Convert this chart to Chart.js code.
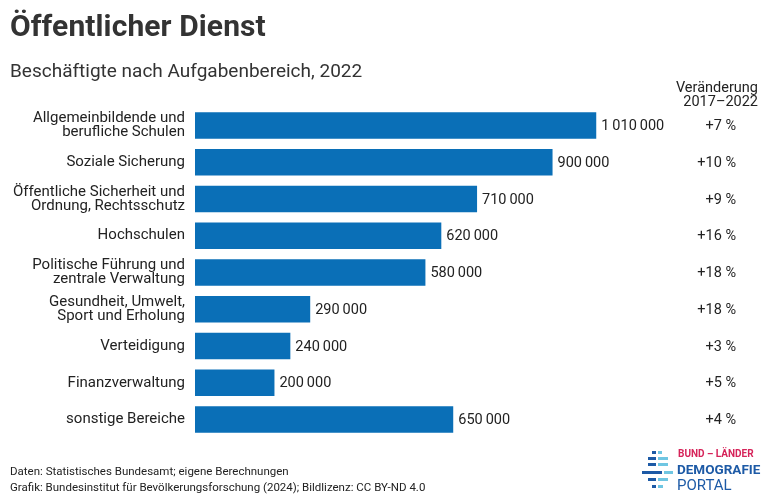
<!DOCTYPE html>
<html>
<head>
<meta charset="utf-8">
<script src="https://cdn.jsdelivr.net/npm/chart.js@4.4.1/dist/chart.umd.min.js"></script>
<style>
  html, body { margin:0; padding:0; background:#fff; }
  body { width:770px; height:500px; position:relative; overflow:hidden; font-family: Roboto, "Noto Sans", sans-serif; color:#222; }
  #wrap { position:absolute; left:0; top:0; width:770px; height:500px; }
  .abs { position:absolute; white-space:nowrap; }
  #title { left:10px; top:8px; font-size:30px; font-weight:700; color:#333; letter-spacing:0.1px; }
  #subtitle { left:10px; top:59px; font-size:19px; color:#333; }
  #head { right:12px; top:81px; font-size:14.5px; line-height:14px; text-align:right; color:#222; }
  #foot { left:10px; top:463px; font-size:11.5px; line-height:16px; color:#222; }
  .st { position:absolute; height:3px; }
  .d { background:#1d5aa6; }
  .l { background:#6fc6e2; }
  #lg1 { left:678px; top:448px; font-size:10px; font-weight:700; color:#d6245a; }
  #lg2 { left:677px; top:461px; font-size:13.5px; font-weight:700; color:#1d5aa6; }
  #lg3 { left:677px; top:476px; font-size:15px; color:#1d5aa6; }
</style>
</head>
<body>
<div id="wrap"><canvas id="c" width="770" height="500"></canvas></div>
<div class="abs" id="title">Öffentlicher Dienst</div>
<div class="abs" id="subtitle">Beschäftigte nach Aufgabenbereich, 2022</div>
<div class="abs" id="head">Veränderung<br>2017–2022</div>
<div class="abs" id="foot">Daten: Statistisches Bundesamt; eigene Berechnungen<br>Grafik: Bundesinstitut für Bevölkerungsforschung (2024); Bildlizenz: CC BY-ND 4.0</div>
<div id="logo">
  <div class="st d" style="left:652px;top:451px;width:4px"></div><div class="st l" style="left:658px;top:451px;width:4px"></div>
  <div class="st d" style="left:648px;top:457px;width:8px"></div><div class="st l" style="left:658px;top:457px;width:10px"></div>
  <div class="st d" style="left:648px;top:463px;width:8px"></div><div class="st l" style="left:658px;top:463px;width:10px"></div>
  <div class="st d" style="left:642px;top:471px;width:20px"></div><div class="st l" style="left:664px;top:471px;width:9px"></div>
  <div class="st d" style="left:648px;top:478px;width:8px"></div><div class="st l" style="left:658px;top:478px;width:10px"></div>
  <div class="st d" style="left:652px;top:485px;width:4px"></div><div class="st l" style="left:658px;top:485px;width:5px"></div>
  <div class="abs" id="lg1">BUND – LÄNDER</div>
  <div class="abs" id="lg2">DEMOGRAFIE</div>
  <div class="abs" id="lg3">PORTAL</div>
</div>
<script>
const categories = [
  ["Allgemeinbildende und", "berufliche Schulen"],
  "Soziale Sicherung",
  ["Öffentliche Sicherheit und", "Ordnung, Rechtsschutz"],
  "Hochschulen",
  ["Politische Führung und", "zentrale Verwaltung"],
  ["Gesundheit, Umwelt,", "Sport und Erholung"],
  "Verteidigung",
  "Finanzverwaltung",
  "sonstige Bereiche"
];
const employees = [1010000, 900000, 710000, 620000, 580000, 290000, 240000, 200000, 650000];
const change = ["+7 %", "+10 %", "+9 %", "+16 %", "+18 %", "+18 %", "+3 %", "+5 %", "+4 %"];

const FONT = "Roboto, 'Noto Sans', sans-serif";
function fmt(v) {
  return String(v).replace(/\B(?=(\d{3})+(?!\d))/g, "\u2009");
}

const labelPlugin = {
  id: "labels",
  afterDatasetsDraw(chart) {
    const ctx = chart.ctx;
    const meta = chart.getDatasetMeta(0);
    const yScale = chart.scales.y;
    ctx.save();
    ctx.font = "14.5px " + FONT;
    ctx.fillStyle = "#222";
    ctx.textBaseline = "middle";
    meta.data.forEach((bar, i) => {
      ctx.textAlign = "left";
      ctx.fillText(fmt(employees[i]), bar.x + 5, bar.y + 1);
      ctx.textAlign = "right";
      ctx.fillText(change[i], 736, yScale.getPixelForValue(i) + 1);
    });
    ctx.restore();
  }
};

new Chart(document.getElementById("c"), {
  type: "bar",
  data: {
    labels: categories,
    datasets: [{
      data: employees,
      backgroundColor: "#0a6fb7",
      borderWidth: 0,
      categoryPercentage: 1.0,
      barPercentage: 0.72
    }]
  },
  options: {
    indexAxis: "y",
    responsive: false,
    animation: false,
    devicePixelRatio: 1,
    layout: { padding: { left: 0, top: 107, right: 138, bottom: 62 } },
    plugins: { legend: { display: false }, tooltip: { enabled: false }, title: { display: false } },
    scales: {
      x: {
        display: false,
        min: 0,
        max: 1100000
      },
      y: {
        afterFit(scale) { scale.width = 195; },
        grid: { display: false, drawTicks: false },
        border: { display: false },
        ticks: {
          padding: 10,
          color: "#222",
          font: { family: FONT, size: 15, lineHeight: 0.93 }
        }
      }
    }
  },
  plugins: [labelPlugin]
});
</script>
</body>
</html>
